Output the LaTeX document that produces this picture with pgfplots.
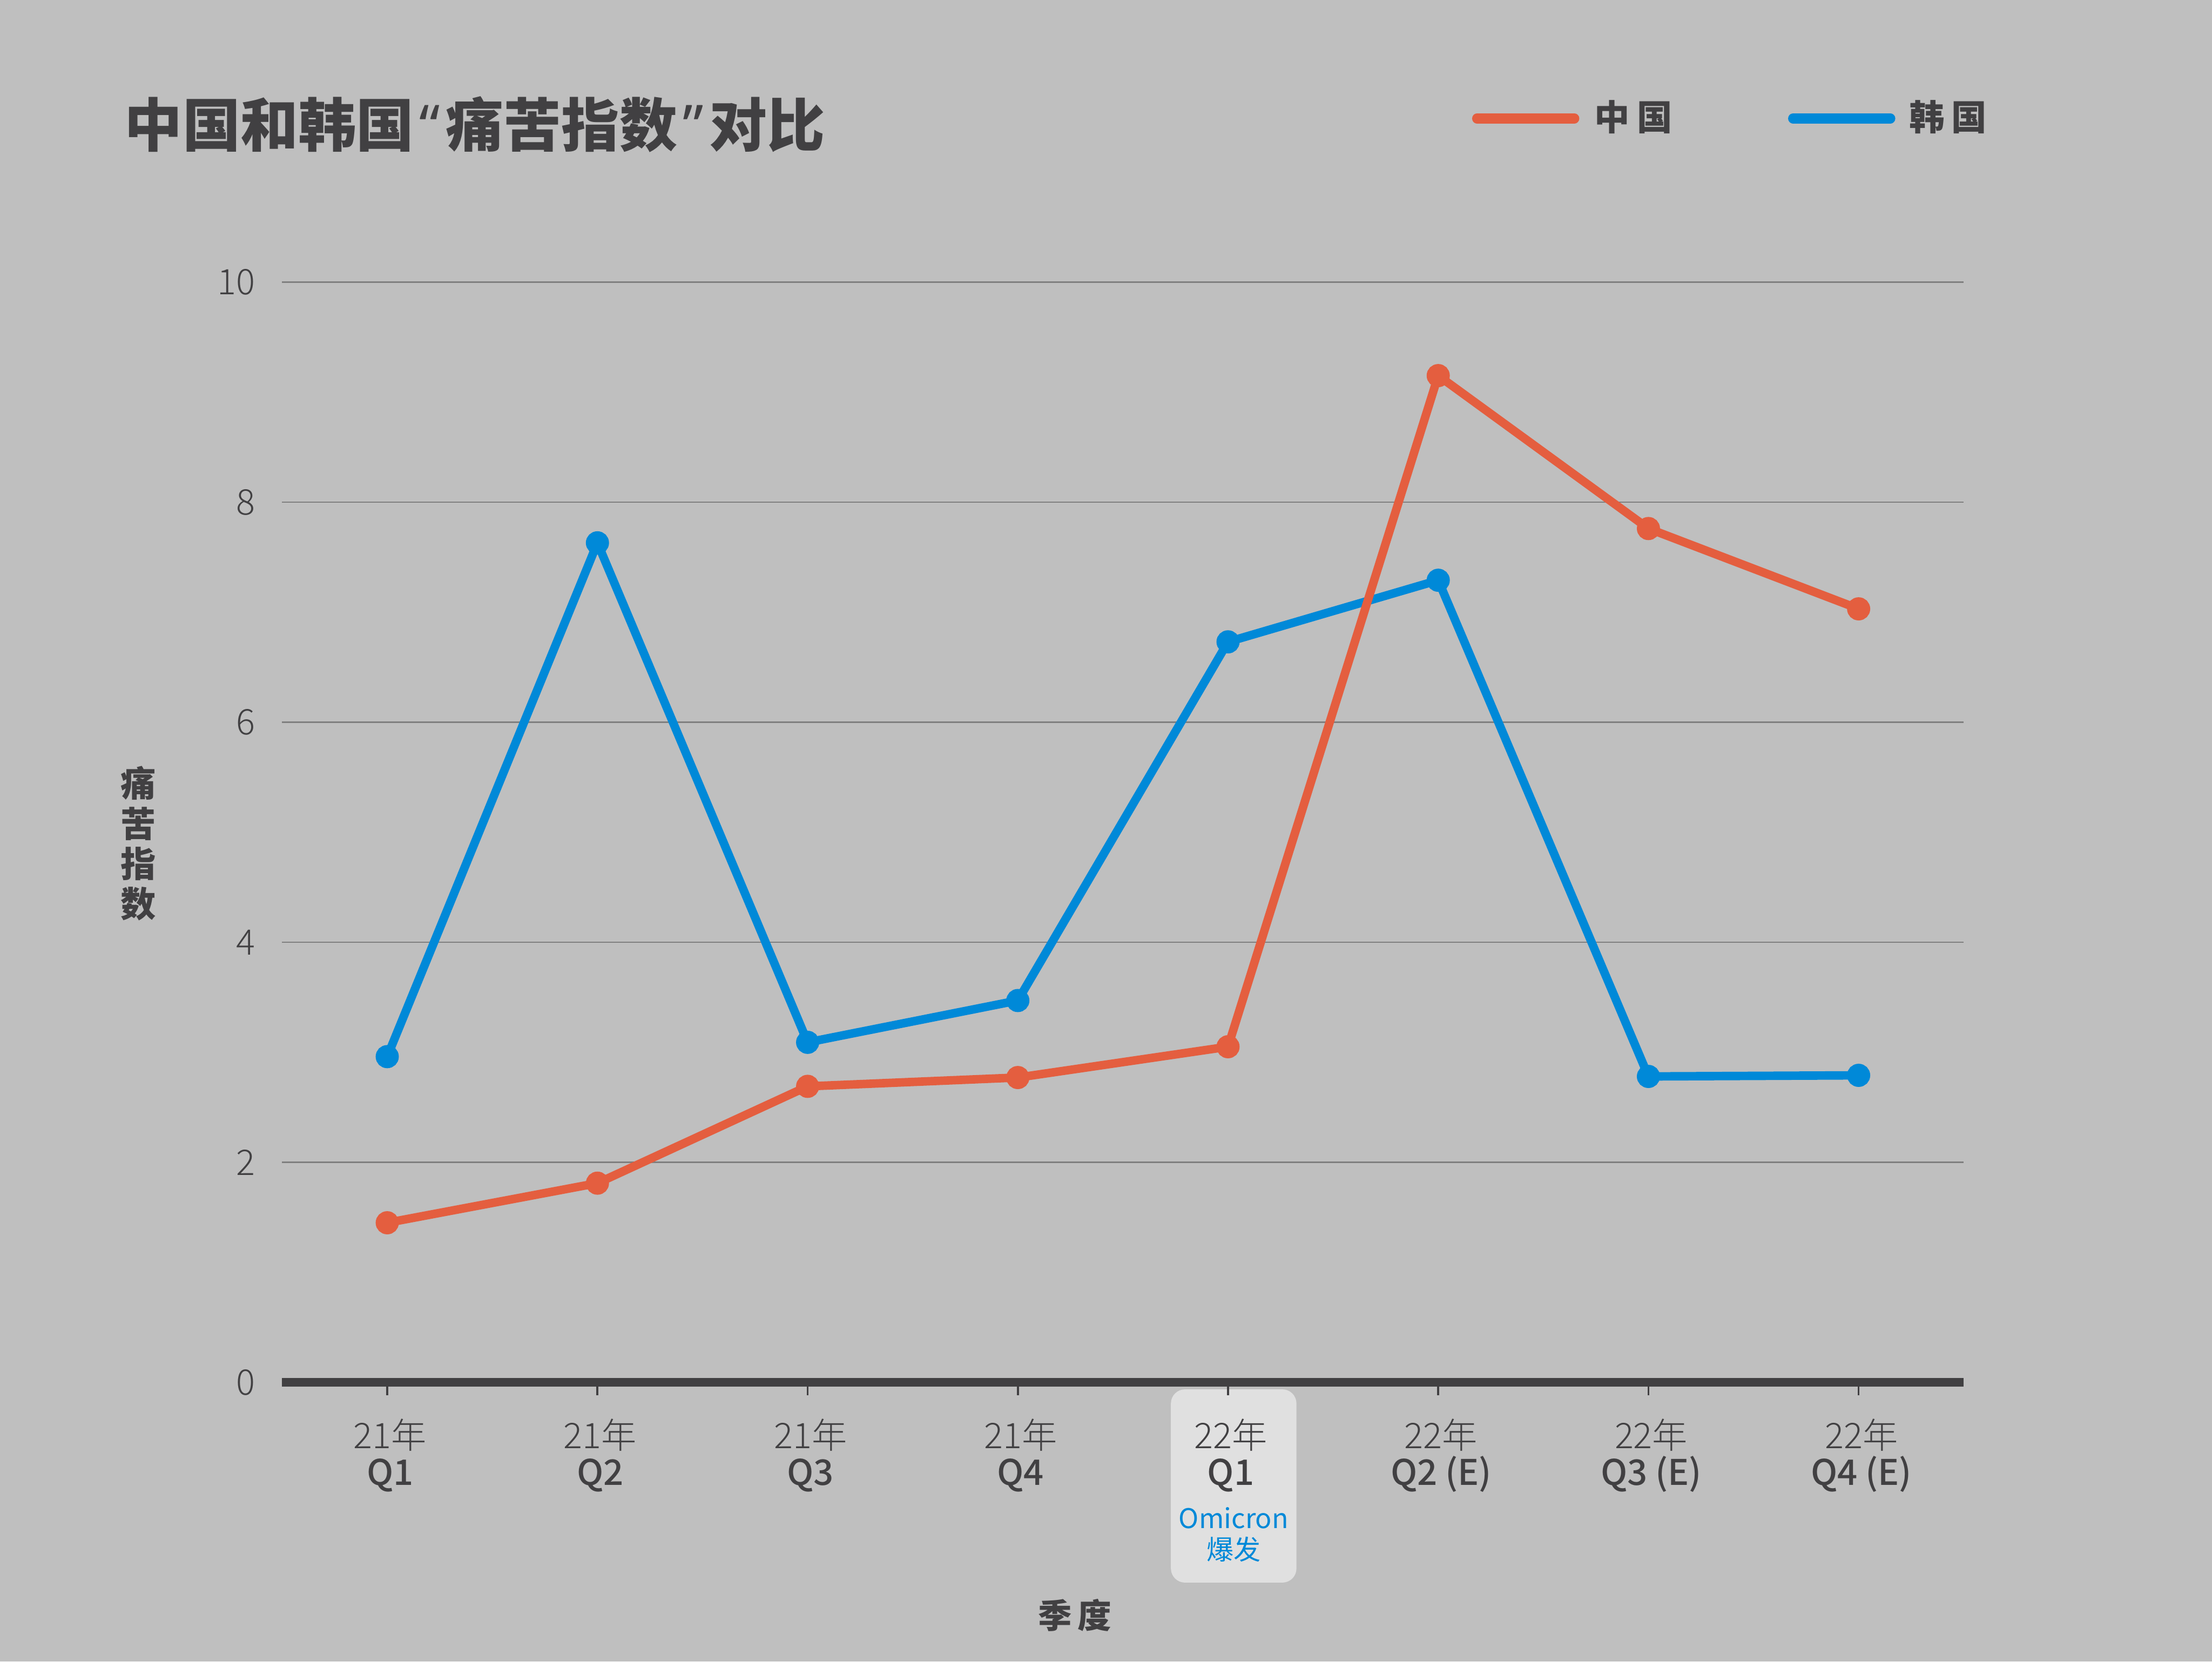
\documentclass[border=0pt]{standalone}
\usepackage{pgfplots}
\pgfplotsset{compat=1.18}
\usepackage{fontspec}
\setmainfont{Noto Sans CJK SC}
\newfontfamily\lightf{Noto Sans CJK SC Light}
\newfontfamily\medf{Noto Sans CJK SC Medium}
\newfontfamily\blackf{Noto Sans CJK SC Black}
\newfontfamily\latinq{Noto Sans}

\definecolor{bg}{HTML}{BFBFBF}
\definecolor{hl}{HTML}{E0E0E0}
\definecolor{ink}{HTML}{414042}
\definecolor{gridc}{HTML}{7F7F7F}
\definecolor{cn}{HTML}{E45E3F}
\definecolor{kr}{HTML}{0089D8}

\begin{document}
\begin{tikzpicture}
% canvas
\fill[bg] (0,0) rectangle (784pt,589pt);
\useasboundingbox (0,0) rectangle (784pt,589pt);
% highlight behind the 22Q1 label
\fill[hl, rounded corners=5pt] (415pt,28pt) rectangle (459.5pt,96.5pt);

\begin{axis}[
    at={(100pt,99pt)}, anchor=south west,
    scale only axis, width=596pt, height=390pt,
    xmin=-0.5, xmax=7.5, ymin=0, ymax=10,
    axis lines*=left,
    x axis line style={line width=3pt, draw=ink},
    y axis line style={draw=none},
    ytick={0,2,4,6,8,10},
    xtick={0,...,7},
    xticklabels={{\lightf 21年\\\medf Q1},{\lightf 21年\\\medf Q2},{\lightf 21年\\\medf Q3},{\lightf 21年\\\medf Q4},
                 {\lightf 22年\\\medf Q1},{\lightf 22年\\\medf Q2 (E)},{\lightf 22年\\\medf Q3 (E)},{\lightf 22年\\\medf Q4 (E)}},
    tick align=outside,
    major tick length=4.5pt,
    xtick style={draw=ink, line width=0.7pt},
    ytick style={draw=none},
    ymajorgrids=true,
    grid style={gridc, line width=0.5pt},
    /pgf/number format/assume math mode=true,
    yticklabel style={font=\fontsize{12.5}{14}\lightf, text=ink, xshift=-1.5pt},
    xticklabel style={font=\fontsize{12.5}{13}\selectfont, text=ink, align=center, yshift=-5pt, xshift=1pt},
    clip=false,
]
\addplot[kr, line width=3pt, mark=*, mark size=2.6pt, mark options={solid, fill=kr, draw=kr}]
coordinates {(0,2.96)(1,7.63)(2,3.09)(3,3.47)(4,6.73)(5,7.29)(6,2.78)(7,2.79)};
\addplot[cn, line width=3pt, mark=*, mark size=2.6pt, mark options={solid, fill=cn, draw=cn}]
coordinates {(0,1.45)(1,1.81)(2,2.69)(3,2.77)(4,3.05)(5,9.15)(6,7.76)(7,7.03)};
\end{axis}

% annotation under 22Q1
\node[align=center, text=kr, font=\fontsize{9.6}{11}\selectfont] at (437.25pt,45pt) {Omicron\\爆发};

% title
\node[anchor=base west, text=ink, font=\fontsize{20.5}{24}\blackf, inner sep=0pt] at (44pt,537pt)
  {中国和韩国\hspace{2pt}{\latinq\bfseries “}\hspace{2pt}痛苦指数\hspace{2pt}{\latinq\bfseries ”}\hspace{2pt}对比};

% legend
\draw[cn, line width=3.5pt, line cap=round] (523.5pt,547pt) -- (558pt,547pt);
\node[anchor=west, text=ink, font=\fontsize{12.5}{14}\selectfont\bfseries, inner sep=0pt] at (565pt,547.5pt) {中\hspace{2.5pt}国};
\draw[kr, line width=3.5pt, line cap=round] (635.5pt,547pt) -- (670pt,547pt);
\node[anchor=west, text=ink, font=\fontsize{12.5}{14}\selectfont\bfseries, inner sep=0pt] at (676.5pt,547.5pt) {韩\hspace{2.5pt}国};

% axis titles
\node[align=center, text=ink, font=\fontsize{12.5}{14.2}\selectfont\bfseries] at (49pt,290pt) {痛\\苦\\指\\数};
\node[text=ink, font=\fontsize{12}{14}\selectfont\bfseries] at (381pt,16.5pt) {季\hspace{2pt}度};
\end{tikzpicture}
\end{document}
